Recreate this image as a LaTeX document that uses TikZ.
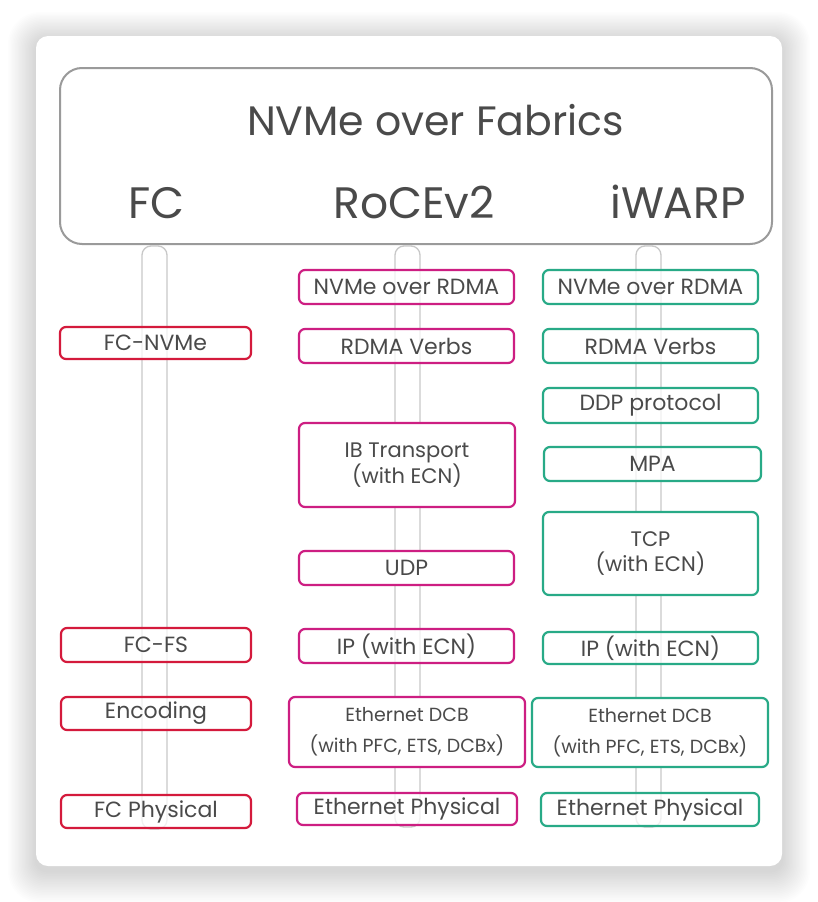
\documentclass[tikz,border=0pt]{standalone}
\usepackage{fontspec}
\setmainfont{Poppins}
\definecolor{txt}{HTML}{4A4A4A}
\definecolor{fcc}{HTML}{D41A3C}
\definecolor{rocec}{HTML}{CD1E82}
\definecolor{iwc}{HTML}{28AA87}
\definecolor{bigc}{HTML}{9A9A9A}
\definecolor{pipec}{HTML}{C8C8C8}
\tikzset{
  lay/.style={draw, line width=2.2pt, rounded corners=6pt, fill=white, fill opacity=0.75, text opacity=1,
    inner sep=0pt, text=txt, align=center, font=\fontsize{22}{26}\selectfont},
  twol/.style={font=\fontsize{21}{25}\selectfont},
  dcbl/.style={font=\fontsize{19}{31}\selectfont},
  pipe/.style={draw=pipec, line width=1.3pt, rounded corners=9pt},
  head/.style={text=txt, anchor=base, inner sep=0pt, font=\fontsize{44}{48}\selectfont},
}
\newcommand\lbox[8][]{\node[lay, draw=#3, #1, minimum width={#6-#4}, minimum height={#7-#5}] (#2) at ({(#4+#6)/2},{(#5+#7)/2}) {#8};}
\begin{document}
\begin{tikzpicture}[x=1pt,y=-1pt]
\useasboundingbox (0,0) rectangle (818,902);
\fill[white] (0,0) rectangle (818,902);
% shadow of the card
\foreach \i in {1,...,20} {
  \fill[black, opacity=0.009, rounded corners={12+\i}] ({36-\i*1.4},{36-\i*1.4+4}) rectangle ({782+\i*1.4},{866+\i*1.6+5});
}
\fill[white, rounded corners=12pt] (36,36) rectangle (782,866);
% pipes
\draw[pipe] (142,246) rectangle (167,829);
\draw[pipe] (395,246) rectangle (420,827);
\draw[pipe] (636,246) rectangle (661,827);
% top box
\node[draw=bigc, line width=2pt, rounded corners=22pt, fill=white, minimum width=712, minimum height=176, inner sep=0pt] (top) at (416,156) {};
\node[head, font=\fontsize{41}{45}\selectfont] (title) at (435.5,135) {NVMe over Fabrics};
\node[head] (fc) at (156.5,218) {FC};
\node[head] (roce) at (414,218) {RoCEv2};
\node[head] (iwarp) at (678,218) {iWARP};
% FC column
\lbox{fcnvme}{fcc}{60}{327}{251}{359}{FC-NVMe}
\lbox{fcfs}{fcc}{61}{628}{251}{662}{FC-FS}
\lbox{enc}{fcc}{61}{697}{251}{730}{Encoding}
\lbox{fcphy}{fcc}{61}{795}{251}{828}{FC Physical}
% RoCEv2 column
\lbox{rnvme}{rocec}{299}{270}{514}{304}{NVMe over RDMA}
\lbox{rverbs}{rocec}{299}{329}{514}{363}{RDMA Verbs}
\lbox[twol, fill opacity=1]{rib}{rocec}{299}{423}{515}{507}{IB Transport\\(with ECN)}
\lbox[fill opacity=1]{rudp}{rocec}{299}{551}{514}{585}{UDP}
\lbox{rip}{rocec}{299}{629}{514}{663}{IP (with ECN)}
\lbox[dcbl, fill opacity=1]{rdcb}{rocec}{289}{697}{525}{767}{Ethernet DCB\\(with PFC, ETS, DCBx)}
\lbox{rphy}{rocec}{297}{793}{517}{825}{Ethernet Physical}
% iWARP column
\lbox{invme}{iwc}{543}{270}{758}{304}{NVMe over RDMA}
\lbox{iverbs}{iwc}{543}{329}{758}{363}{RDMA Verbs}
\lbox{iddp}{iwc}{543}{388}{758}{423}{DDP protocol}
\lbox{impa}{iwc}{544}{447}{761}{481}{MPA}
\lbox[twol, fill opacity=1]{itcp}{iwc}{543}{512}{758}{595}{TCP\\(with ECN)}
\lbox{iip}{iwc}{543}{632}{758}{664}{IP (with ECN)}
\lbox[dcbl, fill opacity=1]{idcb}{iwc}{532}{698}{768}{767}{Ethernet DCB\\(with PFC, ETS, DCBx)}
\lbox{iphy}{iwc}{541}{793}{759}{826}{Ethernet Physical}
\end{tikzpicture}
\end{document}
